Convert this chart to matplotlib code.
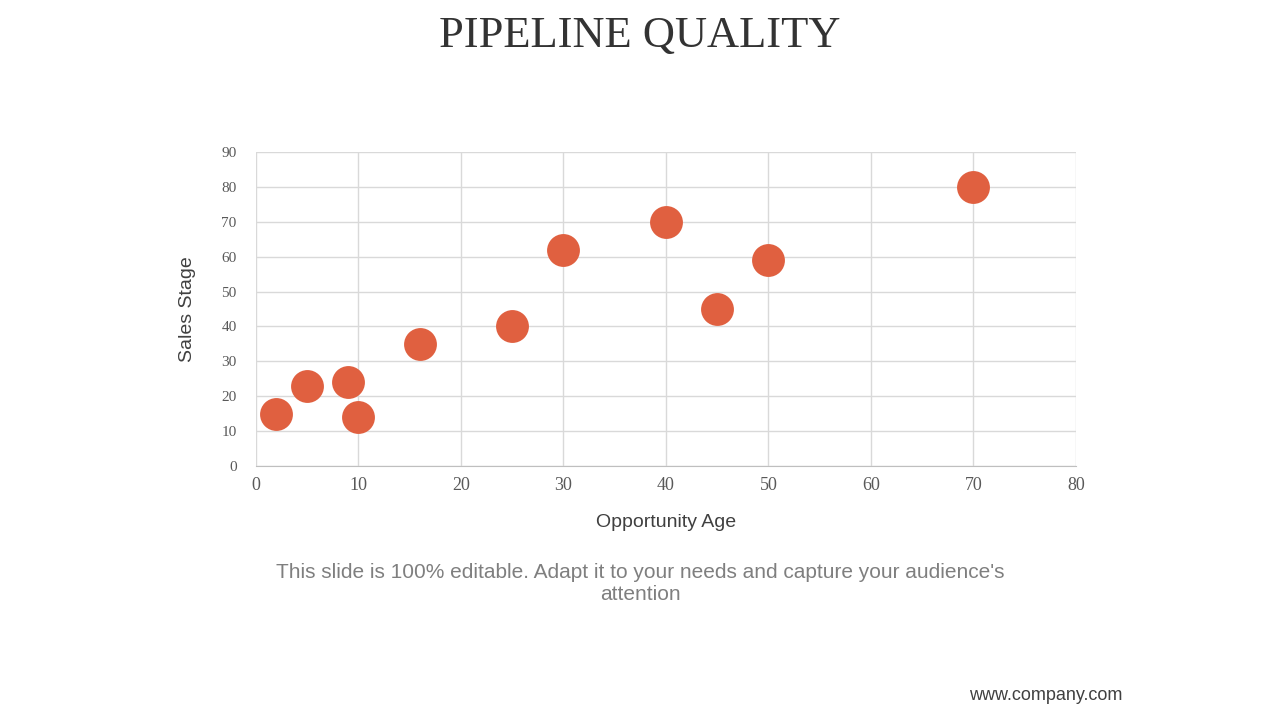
import matplotlib
matplotlib.use("Agg")
import matplotlib.pyplot as plt

opportunity_age = [2, 5, 9, 10, 16, 25, 30, 40, 45, 50, 70]
sales_stage = [15, 23, 24, 14, 35, 40, 62, 70, 45, 59, 80]
x_ticks = [0, 10, 20, 30, 40, 50, 60, 70, 80]
y_ticks = [0, 10, 20, 30, 40, 50, 60, 70, 80, 90]

fig = plt.figure(figsize=(12.8, 7.2), dpi=100)
fig.patch.set_facecolor("white")
ax = fig.add_axes([0.2, 0.3528, 0.6406, 0.4361])
ax.scatter(opportunity_age, sales_stage, s=560, color="#E06040", zorder=3, linewidths=0)
ax.set_xlim(0, 80)
ax.set_ylim(0, 90)
ax.set_xticks(x_ticks)
ax.set_yticks(y_ticks)
ax.grid(True, color="#D9D9D9", linewidth=1)
for s in ["top", "right", "left"]:
    ax.spines[s].set_visible(False)
ax.spines["bottom"].set_color("#BFBFBF")
ax.tick_params(length=0, colors="#595959")
for lbl in ax.get_xticklabels():
    lbl.set_fontfamily("Liberation Serif"); lbl.set_fontsize(13)
for lbl in ax.get_yticklabels():
    lbl.set_fontfamily("Liberation Serif"); lbl.set_fontsize(11)
ax.tick_params(axis="x", pad=8)
ax.tick_params(axis="y", pad=14)
ax.set_xlabel("Opportunity Age", fontsize=14, color="#404040", labelpad=14, family="Liberation Sans")
ax.set_ylabel("Sales Stage", fontsize=14, color="#404040", labelpad=18, family="Liberation Sans")

fig.text(0.5, 0.95, "PIPELINE QUALITY", ha="center", va="center", fontsize=32,
         family="Liberation Serif", color="#333333")
fig.text(0.5, 0.19, "This slide is 100% editable. Adapt it to your needs and capture your audience's\nattention",
         ha="center", va="center", fontsize=15, color="#7F7F7F", family="Liberation Sans", linespacing=1.2)
fig.text(0.877, 0.034, "www.company.com", ha="right", va="center", fontsize=13,
         color="#404040", family="Liberation Sans")
fig.savefig("out.png", dpi=100)
